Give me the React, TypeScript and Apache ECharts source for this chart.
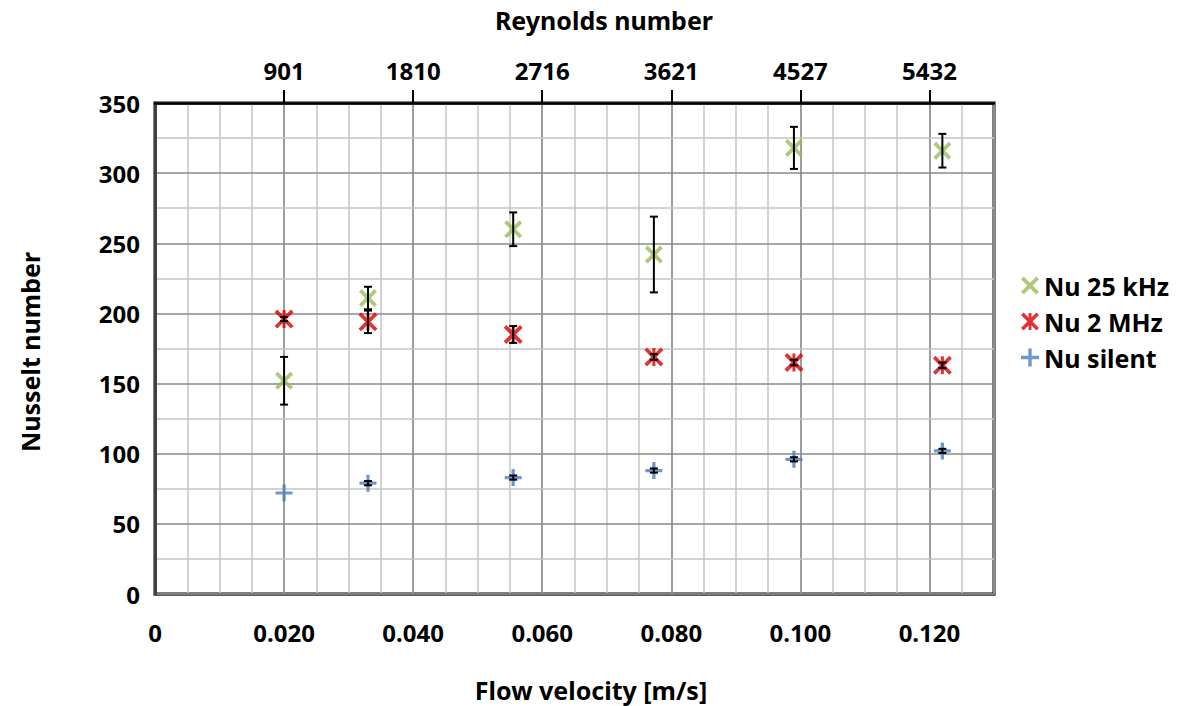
import React, { useEffect, useRef } from "react";
import * as echarts from "echarts";

const velocity = [0.02, 0.033, 0.0555, 0.0773, 0.099, 0.122];
const nu25kHz = [152, 211, 260, 242, 318, 316];
const nu25kHzErr = [17, 8, 12, 27, 15, 12];
const nu2MHz = [196, 194, 185, 169, 165, 163];
const nu2MHzErr = [1.5, 8, 6, 2, 2, 2];
const nuSilent = [72, 79, 83, 88, 96, 102];
const nuSilentErr = [0, 1.5, 1.5, 1.5, 1.5, 1.5];

const velocityTicks = [0, 0.02, 0.04, 0.06, 0.08, 0.1, 0.12];
const velocityLabels = ["0", "0.020", "0.040", "0.060", "0.080", "0.100", "0.120"];
const reynoldsTicks = [0.02, 0.04, 0.06, 0.08, 0.1, 0.12];
const reynoldsLabels = ["901", "1810", "2716", "3621", "4527", "5432"];

const seriesNames = ["Nu 25 kHz", "Nu 2 MHz", "Nu silent"];

const X_PATH =
  "path://M0 3 L3 0 L10 7 L17 0 L20 3 L13 10 L20 17 L17 20 L10 13 L3 20 L0 17 L7 10 Z";
const STAR_PATH =
  "path://M0 2.8 L2.8 0 L10 7.2 L17.2 0 L20 2.8 L12.8 10 L20 17.2 L17.2 20 L10 12.8 L2.8 20 L0 17.2 L7.2 10 Z M8.4 0.5 L11.6 0.5 L11.6 19.5 L8.4 19.5 Z";
const PLUS_PATH =
  "path://M8.1 0 L11.9 0 L11.9 8.1 L20 8.1 L20 11.9 L11.9 11.9 L11.9 20 L8.1 20 L8.1 11.9 L0 11.9 L0 8.1 L8.1 8.1 Z";

const FONT = "Noto Sans";

function pairs(ys: number[]) {
  return velocity.map((v, i) => [v, ys[i]]);
}
function triples(ys: number[], es: number[]) {
  return velocity.map((v, i) => [v, ys[i], es[i]]);
}

const errorRender = (params: any, api: any) => {
  const x = api.value(0);
  const y = api.value(1);
  const e = api.value(2);
  if (!e) return { type: "group", children: [] };
  const top = api.coord([x, y + e]);
  const bot = api.coord([x, y - e]);
  const cap = 4;
  const st = { stroke: "#000", lineWidth: 2 };
  return {
    type: "group",
    children: [
      { type: "line", shape: { x1: top[0], y1: top[1], x2: bot[0], y2: bot[1] }, style: st },
      { type: "line", shape: { x1: top[0] - cap, y1: top[1], x2: top[0] + cap, y2: top[1] }, style: st },
      { type: "line", shape: { x1: bot[0] - cap, y1: bot[1], x2: bot[0] + cap, y2: bot[1] }, style: st },
    ],
  };
};

export default function App() {
  const ref = useRef<HTMLDivElement>(null);
  useEffect(() => {
    if (!ref.current) return;
    const chart = echarts.init(ref.current, null, { renderer: "svg" });
    const labelStyle = { fontFamily: FONT, fontWeight: "bold" as const, fontSize: 24, color: "#000" };
    const titleStyle = { fontFamily: FONT, fontWeight: "bold", fontSize: 25, fill: "#000" };
    // Top axis as a category axis (one category per 0.005 step) so ticks are shown only at Reynolds positions
    const step = 0.005;
    const nSteps = Math.round(0.13 / step);
    const topCats: string[] = [];
    for (let i = 0; i <= nSteps; i++) {
      const v = i * step;
      const k = reynoldsTicks.findIndex((t) => Math.abs(t - v) < 1e-6);
      topCats.push(k >= 0 ? reynoldsLabels[k] : "");
    }
    const isRe = (idx: number) => topCats[idx] !== "";
    chart.setOption({
      animation: false,
      backgroundColor: "#fff",
      grid: {
        left: 155,
        right: 192,
        top: 103,
        bottom: 112,
        show: true,
        borderColor: "#000",
        borderWidth: 3,
      },
      legend: {
        data: seriesNames,
        orient: "vertical",
        left: 1016,
        top: 268,
        itemWidth: 18,
        itemHeight: 18,
        itemGap: 11,
        textStyle: { fontFamily: FONT, fontWeight: "bold", fontSize: 25, color: "#000" },
      },
      xAxis: [
        {
          type: "value",
          position: "bottom",
          min: 0,
          max: 0.13,
          interval: 0.005,
          z: 1,
          axisLine: { show: true, onZero: false, lineStyle: { color: "#595959", width: 3 } },
          axisTick: { show: false },
          splitLine: { show: true, lineStyle: { color: "#c4c4c4", width: 1.5 } },
          axisLabel: {
            ...labelStyle,
            margin: 26,
            customValues: velocityTicks,
            formatter: (v: number) => {
              const i = velocityTicks.findIndex((t) => Math.abs(t - v) < 1e-6);
              return i >= 0 ? velocityLabels[i] : "";
            },
          },
        },
        {
          type: "value",
          position: "top",
          min: 0,
          max: 0.13,
          interval: 0.02,
          z: 2,
          axisLine: { show: false },
          axisTick: { show: false },
          axisLabel: { show: false },
          splitLine: { show: true, lineStyle: { color: "#8a8a8a", width: 1.5 } },
        },
        {
          type: "category",
          position: "top",
          data: topCats,
          boundaryGap: false,
          z: 5,
          axisLine: { show: true, onZero: false, lineStyle: { color: "#000", width: 2.5 } },
          axisTick: {
            show: true,
            inside: false,
            length: 13,
            interval: (idx: number) => isRe(idx),
            lineStyle: { color: "#000", width: 2 },
          },
          splitLine: { show: false },
          axisLabel: {
            ...labelStyle,
            margin: 21,
            interval: (idx: number) => isRe(idx),
          },
        },
      ],
      yAxis: {
        type: "value",
        min: 0,
        max: 350,
        interval: 50,
        z: 3,
        axisLine: { show: true, onZero: false, lineStyle: { color: "#404040", width: 3 } },
        axisTick: { show: false },
        splitLine: { show: true, lineStyle: { color: "#8a8a8a", width: 1.5 } },
        minorTick: { show: false, splitNumber: 2 },
        minorSplitLine: { show: true, lineStyle: { color: "#c4c4c4", width: 1.5 } },
        axisLabel: { ...labelStyle, margin: 15 },
      },
      graphic: [
        {
          type: "text",
          style: { ...titleStyle, text: "Reynolds number", x: 604, y: 20, textAlign: "center", textVerticalAlign: "middle" },
        },
        {
          type: "text",
          style: { ...titleStyle, text: "Flow velocity [m/s]", x: 591, y: 690, textAlign: "center", textVerticalAlign: "middle" },
        },
        {
          type: "text",
          x: 30,
          y: 352,
          rotation: Math.PI / 2,
          style: { ...titleStyle, text: "Nusselt number", x: 0, y: 0, textAlign: "center", textVerticalAlign: "middle" },
        },
      ],
      series: [
        {
          name: seriesNames[0],
          type: "scatter",
          symbol: X_PATH,
          symbolSize: 18,
          itemStyle: { color: "#9bbb59" },
          data: pairs(nu25kHz),
          z: 3,
        },
        {
          name: seriesNames[1],
          type: "scatter",
          symbol: STAR_PATH,
          symbolSize: 19,
          itemStyle: { color: "#d80000" },
          data: pairs(nu2MHz),
          z: 3,
        },
        {
          name: seriesNames[2],
          type: "scatter",
          symbol: PLUS_PATH,
          symbolSize: 17,
          itemStyle: { color: "#4a7ebf" },
          data: pairs(nuSilent),
          z: 3,
        },
        {
          name: "err25",
          type: "custom",
          renderItem: errorRender,
          data: triples(nu25kHz, nu25kHzErr),
          encode: { x: 0, y: 1 },
          z: 4,
          silent: true,
        },
        {
          name: "err2M",
          type: "custom",
          renderItem: errorRender,
          data: triples(nu2MHz, nu2MHzErr),
          encode: { x: 0, y: 1 },
          z: 4,
          silent: true,
        },
        {
          name: "errSilent",
          type: "custom",
          renderItem: errorRender,
          data: triples(nuSilent, nuSilentErr),
          encode: { x: 0, y: 1 },
          z: 4,
          silent: true,
        },
      ],
    });
    return () => chart.dispose();
  }, []);
  return (
    <div
      ref={ref}
      style={{ position: "absolute", left: 0, top: 0, width: 1186, height: 706 }}
    />
  );
}
